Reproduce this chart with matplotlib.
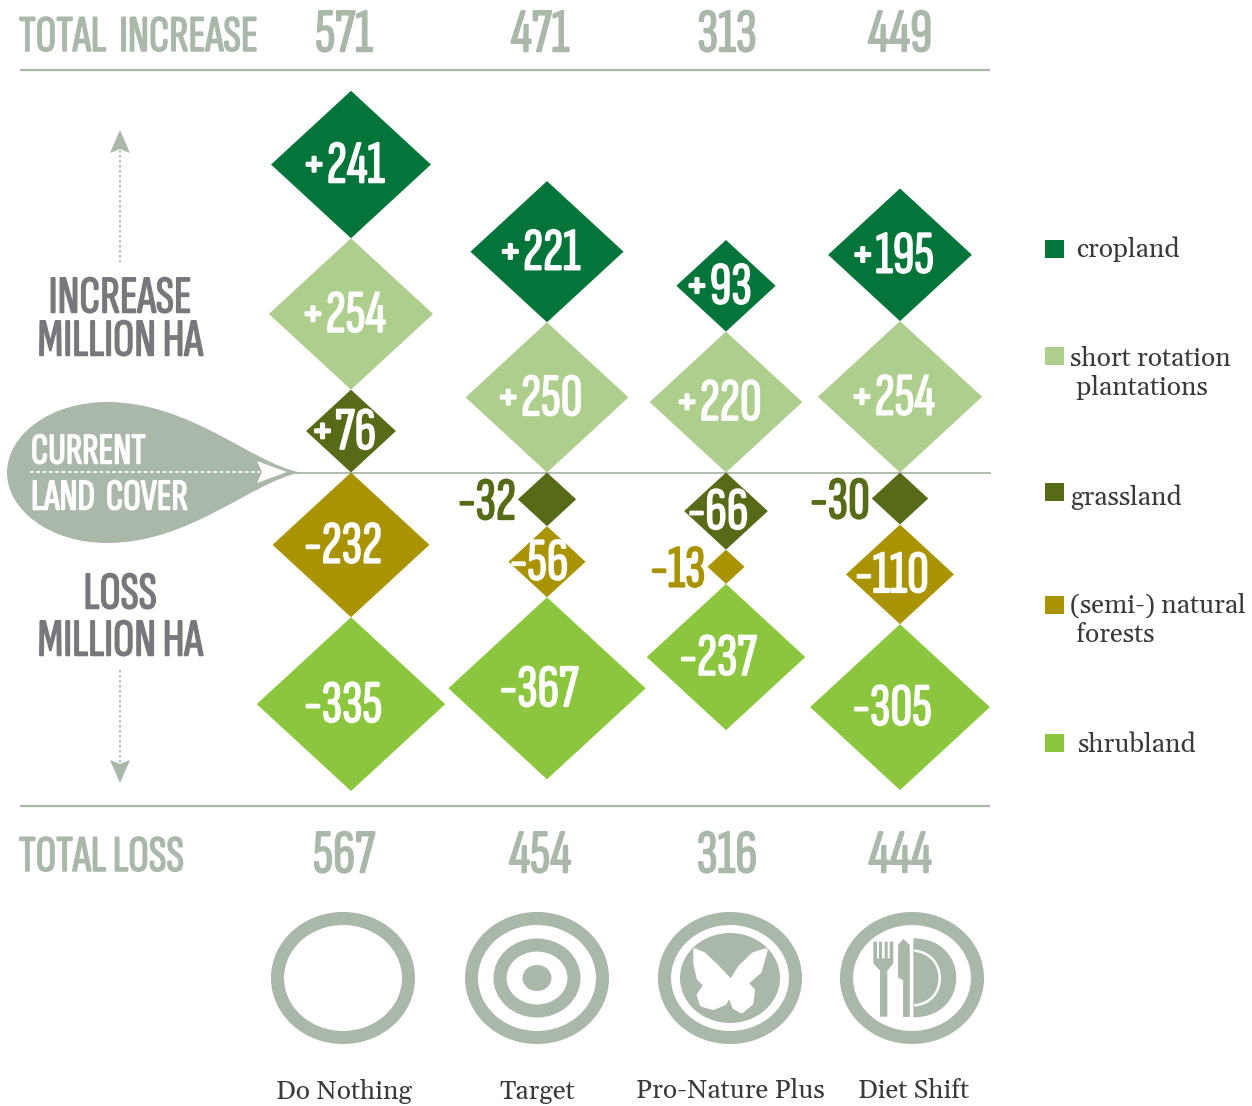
import numpy as np
import matplotlib
matplotlib.use("Agg")
import matplotlib.pyplot as plt
import matplotlib.patheffects as pe
from matplotlib.patches import Polygon, Ellipse, PathPatch, Rectangle
from matplotlib.path import Path
import logging
logging.getLogger("matplotlib.font_manager").setLevel(logging.ERROR)

scenarios = ["Do Nothing", "Target", "Pro-Nature Plus", "Diet Shift"]
total_increase = [571, 471, 313, 449]
total_loss = [567, 454, 316, 444]
cropland = [241, 221, 93, 195]
short_rotation = [254, 250, 220, 254]
grassland = [76, -32, -66, -30]
forests = [-232, -56, -13, -110]
shrubland = [-335, -367, -237, -305]

legend_names = ["cropland", "short rotation\n plantations", "grassland", "(semi-) natural\n forests", "shrubland"]
C_CROP, C_SHORT, C_GRASS, C_FOREST, C_SHRUB = "#04753A", "#AECE8E", "#566A17", "#AA9300", "#8CC63F"
GREY = "#A9B8A9"
DARK = "#77787C"
TXT = "#3A3A3A"
NARROW = ["Sofia Sans Extra Condensed", "Saira ExtraCondensed", "Liberation Sans"]
SERIF = ["Gelasio", "DejaVu Serif"]

W, H = 1252, 1106
fig = plt.figure(figsize=(W / 100, H / 100), dpi=100, facecolor="white")
ax = fig.add_axes([0, 0, 1, 1])
ax.set_xlim(0, W)
ax.set_ylim(H, 0)
ax.axis("off")


def ctext(x, yc, s, cap, color, ha="center"):
    em_px = cap / 0.66
    t = ax.text(x, yc + cap / 2 - 1, s, fontsize=em_px * 0.72, color=color, ha=ha, va="baseline",
                family=NARROW, weight="bold")
    t.set_path_effects([pe.withStroke(linewidth=1.1, foreground=color)])
    return t


def stext(x, y, s, size=19, ha="center"):
    return ax.text(x, y, s, fontsize=size, color=TXT, ha=ha, va="center", family=SERIF)


# rules
for y in (70, 806):
    ax.plot([20, 990], [y, y], color=GREY, lw=1.6, solid_capstyle="butt")
ax.plot([296, 990], [472.5, 472.5], color=GREY, lw=1.3)

# totals
total_x = [344, 540, 727, 900]
ctext(19, 35, "TOTAL  INCREASE", 34, GREY, ha="left")
ctext(19, 855, "TOTAL LOSS", 34, GREY, ha="left")
for x, a, b in zip(total_x, total_increase, total_loss):
    ctext(x, 32, str(a), 41, GREY)
    ctext(x, 853, str(b), 41, GREY)

# diamonds: width and height follow the square root of the value
col_x = [351, 547, 726, 900]
KW, KH = 10.3, 9.5
BASE = 472.5


def diamond(xc, v, start, direction, color):
    h = KH * np.sqrt(abs(v))
    w = KW * np.sqrt(abs(v))
    yc = start + direction * h / 2
    ax.add_patch(Polygon([(xc - w / 2, yc), (xc, yc - h / 2), (xc + w / 2, yc), (xc, yc + h / 2)],
                         closed=True, fc=color, ec="none", zorder=3))
    label = f"{v:+d}"
    if abs(v) < 50:
        ctext(xc - w / 2 - 2, yc + 1, label, 40, color, ha="right").set_zorder(4)
    else:
        ctext(xc - 8, yc - 1, label, 40, "white").set_zorder(4)
    return start + direction * h


for i, xc in enumerate(col_x):
    up, down = BASE, BASE
    if grassland[i] > 0:
        up = diamond(xc, grassland[i], up, -1, C_GRASS)
    else:
        down = diamond(xc, grassland[i], down, 1, C_GRASS)
    up = diamond(xc, short_rotation[i], up, -1, C_SHORT)
    up = diamond(xc, cropland[i], up, -1, C_CROP)
    down = diamond(xc, forests[i], down, 1, C_FOREST)
    down = diamond(xc, shrubland[i], down, 1, C_SHRUB)

# left annotations
ctext(120, 296, "INCREASE", 35, DARK)
ctext(120, 339, "MILLION HA", 35, DARK)
ctext(120, 592, "LOSS", 35, DARK)
ctext(120, 639, "MILLION HA", 35, DARK)

ax.plot([120, 120], [150, 262], color=GREY, lw=1.2, ls=(0, (1.5, 1.5)))
ax.add_patch(Polygon([(120, 130), (130, 153), (120, 149), (110, 153)], fc=GREY, ec="none"))
ax.plot([120, 120], [670, 765], color=GREY, lw=1.2, ls=(0, (1.5, 1.5)))
ax.add_patch(Polygon([(120, 783), (130, 760), (120, 764), (110, 760)], fc=GREY, ec="none"))

# current land cover drop
verts = [(300, 472.5),
         (250, 462), (190, 402), (107, 402),
         (50, 402), (7, 435), (7, 472.5),
         (7, 510), (50, 543), (107, 543),
         (190, 543), (250, 483), (300, 472.5)]
codes = [Path.MOVETO] + [Path.CURVE4] * 12
ax.add_patch(PathPatch(Path(verts, codes), fc=GREY, ec="none", zorder=2))
ax.plot([30, 260], [472, 472], color="white", lw=1.3, ls=(0, (2, 1.5)), zorder=3)
ax.add_patch(Polygon([(257, 461), (287, 472), (257, 483), (262, 472)], fc="white", ec="none", zorder=3))
ctext(31, 450, "CURRENT", 29, "white", ha="left").set_zorder(4)
ctext(31, 496, "LAND  COVER", 29, "white", ha="left").set_zorder(4)

# scenario icons
icon_x = [343, 537, 730, 912]
ICON_Y = 978
for x in icon_x:
    ax.add_patch(Ellipse((x, ICON_Y), 131, 119, fc="none", ec=GREY, lw=9.4))
# target
ax.add_patch(Ellipse((icon_x[1], ICON_Y), 74, 66, fc="none", ec=GREY, lw=9.4))
ax.add_patch(Ellipse((icon_x[1], ICON_Y), 29, 26, fc=GREY, ec="none"))
# butterfly
ax.add_patch(Ellipse((icon_x[2], ICON_Y), 100, 90, fc=GREY, ec="none"))
bf = np.array([(300, 240), (262, 200), (222, 162), (195, 150), (195, 190), (205, 235), (225, 255), (205, 285),
               (215, 315), (250, 325), (285, 310), (298, 285), (312, 322), (335, 335), (365, 310), (370, 270),
               (350, 250), (390, 215), (408, 150), (370, 162), (330, 200), (305, 240)], float)
bf = bf / 3 + (630, 900)
ax.add_patch(Polygon(bf, closed=True, fc="white", ec="white", lw=2.5, joinstyle="round"))


def z(px, py):
    return (px / 3 + 630, py / 3 + 900)


# cutlery and plate
fork = [(730, 125), (741, 125), (741, 175), (747, 175), (747, 125), (756, 125), (756, 175), (764, 175),
        (764, 125), (773, 125), (773, 175), (779, 175), (779, 125), (790, 125), (790, 190), (772, 212),
        (772, 350), (750, 350), (750, 212), (730, 190)]
ax.add_patch(Polygon([z(*p) for p in fork], fc=GREY, ec="none"))
knife = [(805, 135), (820, 118), (838, 135), (838, 350), (820, 350), (820, 240), (805, 232)]
ax.add_patch(Polygon([z(*p) for p in knife], fc=GREY, ec=GREY, lw=0.5, joinstyle="round"))
ax.add_patch(PathPatch(
    Path([z(850, 115), z(1022, 115), z(1022, 352), z(850, 352)],
         [Path.MOVETO, Path.CURVE4, Path.CURVE4, Path.CURVE4]), fc=GREY, ec="none"))
ax.add_patch(PathPatch(
    Path([z(852, 152), z(955, 160), z(955, 310), z(852, 316)],
         [Path.MOVETO, Path.CURVE4, Path.CURVE4, Path.CURVE4]), fc="none", ec="white", lw=1.8))

# scenario names
name_x = [344, 537, 730, 913]
for x, name in zip(name_x, scenarios):
    stext(x, 1091, name)

# legend
legend_colors = [C_CROP, C_SHORT, C_GRASS, C_FOREST, C_SHRUB]
legend_y = [249, 356, 492, 605, 743]
for yc, c in zip(legend_y, legend_colors):
    ax.add_patch(Rectangle((1045, yc - 9), 19, 18, fc=c, ec="none"))
stext(1076, 249, legend_names[0], ha="left")
stext(1070, 358, legend_names[1].split("\n")[0], ha="left")
stext(1070, 388, legend_names[1].split("\n")[1], ha="left")
stext(1070, 497, legend_names[2], ha="left")
stext(1070, 605, legend_names[3].split("\n")[0], ha="left")
stext(1070, 635, legend_names[3].split("\n")[1], ha="left")
stext(1077, 744, legend_names[4], ha="left")

fig.savefig("out.png", dpi=100, facecolor="white")
